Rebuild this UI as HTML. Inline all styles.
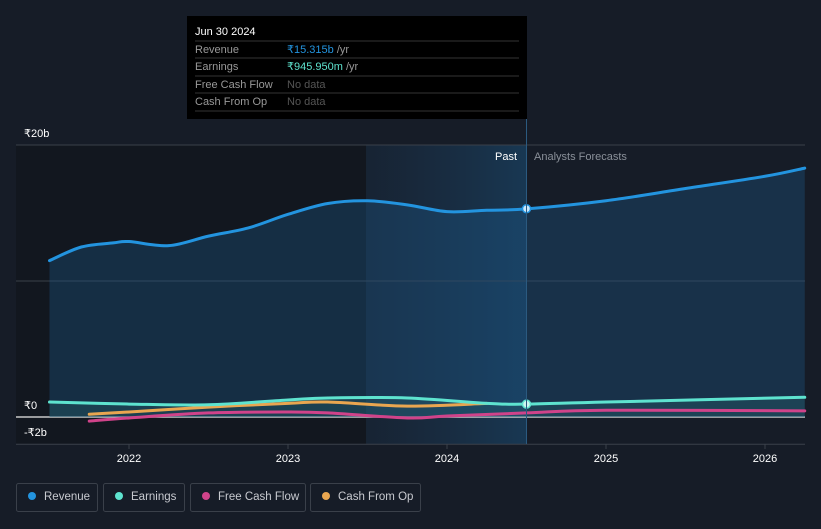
<!DOCTYPE html>
<html><head><meta charset="utf-8"><style>
body{margin:0;background:#161c27;font-family:"Liberation Sans",sans-serif;}
svg text{font-family:"Liberation Sans",sans-serif;}
</style></head><body>
<svg id="c" width="821" height="524" xmlns="http://www.w3.org/2000/svg">
<defs>
<linearGradient id="hl" x1="0" x2="1" y1="0" y2="0"><stop offset="0" stop-color="#1a3550" stop-opacity="0.3"/><stop offset="1" stop-color="#1a4a70" stop-opacity="0.6"/></linearGradient>
</defs>
<rect x="0" y="0" width="821" height="524" fill="#161c27"/>
<rect x="16" y="145" width="350" height="299" fill="#12171f"/>
<rect x="366" y="145" width="160" height="299" fill="url(#hl)"/>
<g id="grid"></g>
<g id="areas"></g>
<g id="lines"></g>
<line x1="526.5" y1="118" x2="526.5" y2="444" stroke="#2b5a80" stroke-width="1"/>
<text x="517" y="160" fill="#fff" font-size="11" text-anchor="end">Past</text>
<text x="534" y="160" fill="#8a9099" font-size="11">Analysts Forecasts</text>
<g id="axis"></g>
<g>
<rect x="187" y="16" width="340" height="103" fill="#000"/>
<text x="195" y="35" fill="#fff" font-size="11">Jun 30 2024</text>
<line x1="195" y1="41" x2="519" y2="41" stroke="#333"/>
<text x="195" y="53" fill="#999" font-size="11">Revenue</text>
<text x="287" y="53" fill="#2394df" font-size="11">₹15.315b <tspan fill="#999">/yr</tspan></text>
<line x1="195" y1="58" x2="519" y2="58" stroke="#333"/>
<text x="195" y="70" fill="#999" font-size="11">Earnings</text>
<text x="287" y="70" fill="#5ee3cf" font-size="11">₹945.950m <tspan fill="#999">/yr</tspan></text>
<line x1="195" y1="76" x2="519" y2="76" stroke="#333"/>
<text x="195" y="88" fill="#999" font-size="11">Free Cash Flow</text>
<text x="287" y="88" fill="#555" font-size="11">No data</text>
<line x1="195" y1="93" x2="519" y2="93" stroke="#333"/>
<text x="195" y="105" fill="#999" font-size="11">Cash From Op</text>
<text x="287" y="105" fill="#555" font-size="11">No data</text>
<line x1="195" y1="111" x2="519" y2="111" stroke="#333"/>
</g>
<g id="legend"></g>
</svg>
<script>
const yTicks=[20,10,0,-2];
const yTickLabels=["₹20b","","₹0","-₹2b"];
const xTicks=[2022,2023,2024,2025,2026];
const revX=[2021.5,2021.7,2021.9,2022.0,2022.25,2022.5,2022.75,2023.0,2023.25,2023.5,2023.75,2024.0,2024.25,2024.5,2025.0,2025.5,2026.0,2026.25];
const revY=[11.5,12.5,12.8,12.9,12.6,13.3,13.9,14.9,15.7,15.9,15.6,15.1,15.2,15.3,15.9,16.8,17.7,18.3];
const earnX=[2021.5,2022.0,2022.5,2023.0,2023.25,2023.75,2024.25,2024.5,2025.0,2026.25];
const earnY=[1.1,0.95,0.9,1.25,1.4,1.4,1.0,0.95,1.1,1.45];
const fcfX=[2021.75,2022.0,2022.5,2023.0,2023.25,2023.75,2024.0,2024.5,2025.0,2026.25];
const fcfY=[-0.3,-0.07,0.3,0.37,0.3,-0.07,0.07,0.3,0.5,0.45];
const cfoX=[2021.75,2022.0,2022.5,2023.0,2023.25,2023.75,2024.25];
const cfoY=[0.2,0.37,0.73,1.0,1.1,0.8,1.0];
const NS="http://www.w3.org/2000/svg";
const xs=v=>129+(v-2022)*159;
const ys=v=>417-v*13.6;
function mk(t,a,p){const e=document.createElementNS(NS,t);for(const k in a)e.setAttribute(k,a[k]);p.appendChild(e);return e;}
function path(X,Y){const P=X.map((x,i)=>[xs(x),ys(Y[i])]);let d="M"+P[0][0]+","+P[0][1];
for(let i=0;i<P.length-1;i++){const p0=P[Math.max(0,i-1)],p1=P[i],p2=P[i+1],p3=P[Math.min(P.length-1,i+2)];
const c1=[p1[0]+(p2[0]-p0[0])/6,p1[1]+(p2[1]-p0[1])/6],c2=[p2[0]-(p3[0]-p1[0])/6,p2[1]-(p3[1]-p1[1])/6];
d+=" C"+c1[0]+","+c1[1]+" "+c2[0]+","+c2[1]+" "+p2[0]+","+p2[1];}return d;}
const grid=document.getElementById("grid"),axis=document.getElementById("axis");
yTicks.forEach((t,i)=>{const l=mk("line",{x1:16,x2:805,y1:ys(t),y2:ys(t),stroke:t==0?"#c8c8c8":"#3a404a","stroke-width":t==0?1.5:1},grid);


if(yTickLabels[i]){const tx=mk("text",{x:24,y:ys(t)-8,fill:"#fff","font-size":11},axis);tx.textContent=yTickLabels[i];

}});
xTicks.forEach(t=>{const tk=mk("line",{x1:xs(t),x2:xs(t),y1:444,y2:449,stroke:"#3a404a"},axis);


const tx=mk("text",{x:xs(t),y:462,fill:"#fff","font-size":11,"text-anchor":"middle"},axis);tx.textContent=t;

});
const areas=document.getElementById("areas"),lines=document.getElementById("lines");
const ra=mk("path",{d:path(revX,revY)+" L"+xs(revX[revX.length-1])+","+ys(0)+" L"+xs(revX[0])+","+ys(0)+"Z",fill:"#1e5a8a","fill-opacity":0.35},areas);


const ea=mk("path",{d:path(earnX,earnY)+" L"+xs(earnX[earnX.length-1])+","+ys(0)+" L"+xs(earnX[0])+","+ys(0)+"Z",fill:"#2a6a70","fill-opacity":0.3},areas);


const series=[[fcfX,fcfY,"#d0438a","free-cash-flow-line"],[cfoX,cfoY,"#e9a650","cash-from-op-line"],[earnX,earnY,"#5ee3cf","earnings-line"],[revX,revY,"#2394df","revenue-line"]];
series.forEach(s=>{const p=mk("path",{d:path(s[0],s[1]),fill:"none",stroke:s[2],"stroke-width":3,"stroke-linecap":"round"},lines);

});
const c1=mk("circle",{cx:xs(2024.5),cy:ys(15.315),r:4,fill:"#cde8fb",stroke:"#2394df","stroke-width":1.5},lines);


const c2=mk("circle",{cx:xs(2024.5),cy:ys(0.946),r:4,fill:"#cdf7f0",stroke:"#5ee3cf","stroke-width":1.5},lines);


const leg=[["Revenue","#2394df",16,81],["Earnings","#5ee3cf",103,81],["Free Cash Flow","#d0438a",190,115],["Cash From Op","#e9a650",310,110]];
const lg=document.getElementById("legend");
leg.forEach(l=>{const g=mk("g",{},lg);


mk("rect",{x:l[2]+0.5,y:483.5,width:l[3],height:28,rx:2,fill:"none",stroke:"#3a404a"},g);
mk("circle",{cx:l[2]+16,cy:496,r:4,fill:l[1]},g);
const t=mk("text",{x:l[2]+28,y:500,fill:"#c8cad0","font-size":11.5},g);t.textContent=l[0];});
</script>
</body></html>
